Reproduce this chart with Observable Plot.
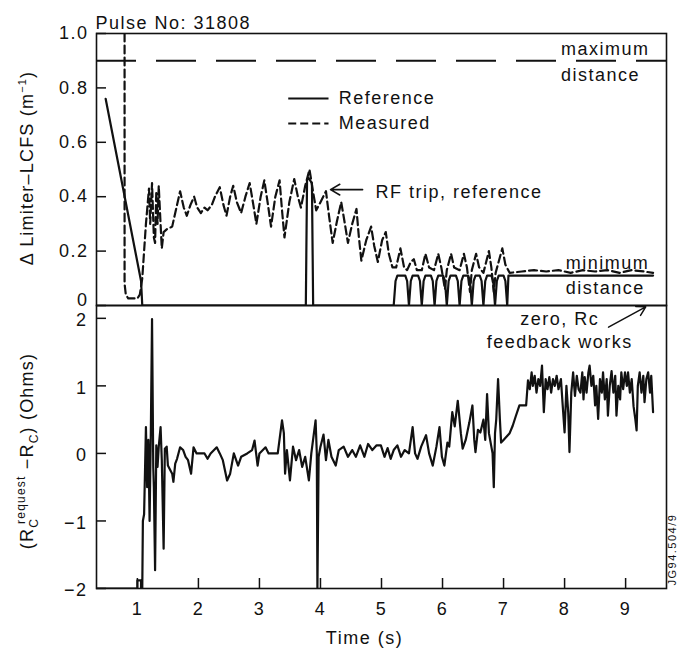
<!DOCTYPE html>
<html>
<head>
<meta charset="utf-8">
<script src="https://cdn.jsdelivr.net/npm/d3@7"></script>
<script src="https://cdn.jsdelivr.net/npm/@observablehq/plot@0.6"></script>
<style>
  body { margin: 0; background: #fff; }
  #chart { position: relative; width: 685px; height: 649px; background: #fff; }
  #chart svg { position: absolute; left: 0; top: 0; }
</style>
</head>
<body>
<div id="chart"></div>
<script>
// ---------- data ----------
const pulseNo = "31808";
const maxDistance = 0.9;
const topTicks = [0, 0.2, 0.4, 0.6, 0.8, 1.0];
const topTickLabels = [0.2, 0.4, 0.6, 0.8, 1.0];
const bottomTicks = [-2, -1, 0, 1, 2];
const timeTicks = [1, 2, 3, 4, 5, 6, 7, 8, 9];

// Reference limiter-LCFS distance (solid)
const refTime = [0.48, 1.06, 1.08, 3.76, 3.78, 3.80, 3.86, 3.88, 5.20, 5.23, 5.26, 5.39, 5.42, 5.45, 5.48, 5.51, 5.60, 5.63, 5.66, 5.69, 5.72, 5.81, 5.84, 5.87, 5.90, 5.93, 6.01, 6.04, 6.07, 6.10, 6.13, 6.22, 6.25, 6.28, 6.31, 6.34, 6.42, 6.45, 6.48, 6.51, 6.54, 6.61, 6.64, 6.67, 6.70, 6.73, 6.80, 6.83, 6.86, 6.89, 6.92, 7.00, 7.03, 7.06, 7.08, 9.45];
const refDist = [0.76, 0.09, 0, 0, 0.46, 0.47, 0.45, 0, 0, 0.09, 0.11, 0.11, 0.09, 0, 0.09, 0.11, 0.11, 0.09, 0, 0.09, 0.11, 0.11, 0.09, 0, 0.09, 0.11, 0.11, 0.09, 0, 0.09, 0.11, 0.11, 0.09, 0, 0.09, 0.11, 0.11, 0.09, 0, 0.09, 0.11, 0.11, 0.09, 0, 0.09, 0.11, 0.11, 0.09, 0, 0.09, 0.11, 0.11, 0.09, 0, 0.11, 0.11];

// Measured limiter-LCFS distance (dashed)
const measTime = [0.79, 0.79, 0.81, 0.85, 1.00, 1.04, 1.08, 1.14, 1.19, 1.21, 1.24, 1.27, 1.29, 1.31, 1.33, 1.35, 1.38, 1.40, 1.43, 1.48, 1.57, 1.63, 1.70, 1.76, 1.81, 1.87, 1.93, 1.98, 2.04, 2.10, 2.15, 2.22, 2.27, 2.35, 2.41, 2.46, 2.52, 2.57, 2.63, 2.70, 2.77, 2.84, 2.90, 2.95, 3.02, 3.08, 3.14, 3.19, 3.26, 3.33, 3.37, 3.41, 3.49, 3.57, 3.63, 3.68, 3.75, 3.82, 3.87, 3.93, 4.00, 4.09, 4.14, 4.20, 4.27, 4.34, 4.40, 4.45, 4.52, 4.59, 4.63, 4.67, 4.75, 4.83, 4.88, 4.94, 5.01, 5.07, 5.12, 5.18, 5.24, 5.31, 5.37, 5.42, 5.48, 5.53, 5.58, 5.66, 5.72, 5.78, 5.86, 5.93, 5.98, 6.04, 6.07, 6.14, 6.19, 6.28, 6.35, 6.40, 6.45, 6.48, 6.55, 6.60, 6.67, 6.76, 6.80, 6.84, 6.87, 6.98, 7.03, 7.10, 7.30, 7.50, 7.70, 7.90, 8.10, 8.30, 8.50, 8.70, 8.90, 9.10, 9.30, 9.45];
const measDist = [1.0, 0.08, 0.04, 0.026, 0.026, 0.04, 0.10, 0.30, 0.43, 0.30, 0.45, 0.25, 0.23, 0.42, 0.30, 0.44, 0.30, 0.21, 0.27, 0.28, 0.29, 0.35, 0.42, 0.36, 0.33, 0.37, 0.40, 0.36, 0.34, 0.36, 0.35, 0.37, 0.40, 0.435, 0.37, 0.33, 0.40, 0.44, 0.38, 0.34, 0.40, 0.45, 0.37, 0.30, 0.40, 0.46, 0.37, 0.29, 0.40, 0.46, 0.35, 0.25, 0.38, 0.465, 0.40, 0.36, 0.44, 0.50, 0.43, 0.35, 0.38, 0.42, 0.33, 0.23, 0.31, 0.38, 0.30, 0.23, 0.30, 0.355, 0.25, 0.165, 0.24, 0.29, 0.22, 0.16, 0.24, 0.27, 0.19, 0.14, 0.14, 0.21, 0.14, 0.13, 0.16, 0.17, 0.13, 0.13, 0.19, 0.14, 0.13, 0.19, 0.14, 0.06, 0.13, 0.19, 0.14, 0.13, 0.19, 0.14, 0.05, 0.13, 0.19, 0.14, 0.12, 0.20, 0.14, 0.05, 0.12, 0.21, 0.15, 0.12, 0.125, 0.13, 0.125, 0.13, 0.12, 0.13, 0.125, 0.13, 0.12, 0.13, 0.125, 0.12];

// Rc request - Rc (Ohms)
const rcTime = [0.33, 1.00, 1.00, 1.06, 1.06, 1.08, 1.09, 1.11, 1.14, 1.16, 1.18, 1.20, 1.22, 1.24, 1.26, 1.27, 1.29, 1.31, 1.33, 1.35, 1.38, 1.40, 1.43, 1.45, 1.48, 1.50, 1.54, 1.57, 1.59, 1.62, 1.65, 1.70, 1.75, 1.79, 1.83, 1.88, 1.92, 1.97, 2.10, 2.15, 2.20, 2.30, 2.35, 2.40, 2.47, 2.52, 2.58, 2.65, 2.70, 2.80, 2.88, 2.92, 2.97, 3.00, 3.10, 3.15, 3.30, 3.37, 3.40, 3.42, 3.45, 3.50, 3.55, 3.60, 3.65, 3.70, 3.75, 3.81, 3.85, 3.92, 3.94, 3.95, 3.97, 4.00, 4.05, 4.09, 4.13, 4.18, 4.25, 4.30, 4.38, 4.45, 4.52, 4.58, 4.65, 4.72, 4.78, 4.85, 4.92, 4.99, 5.05, 5.10, 5.15, 5.20, 5.26, 5.32, 5.38, 5.45, 5.51, 5.55, 5.59, 5.65, 5.73, 5.78, 5.84, 5.90, 5.95, 5.99, 6.03, 6.08, 6.11, 6.16, 6.20, 6.25, 6.30, 6.33, 6.38, 6.44, 6.49, 6.52, 6.54, 6.58, 6.62, 6.67, 6.70, 6.73, 6.76, 6.78, 6.82, 6.84, 6.86, 6.88, 6.91, 6.94, 6.96, 7.00, 7.04, 7.10, 7.15, 7.20, 7.26, 7.37, 7.40, 7.43, 7.46, 7.48, 7.51, 7.54, 7.57, 7.60, 7.63, 7.66, 7.69, 7.72, 7.75, 7.78, 7.81, 7.84, 7.87, 7.90, 7.94, 7.97, 8.00, 8.03, 8.06, 8.08, 8.11, 8.14, 8.17, 8.20, 8.23, 8.26, 8.29, 8.31, 8.33, 8.36, 8.39, 8.41, 8.44, 8.47, 8.50, 8.52, 8.55, 8.58, 8.61, 8.63, 8.66, 8.69, 8.71, 8.74, 8.77, 8.80, 8.83, 8.85, 8.88, 8.91, 8.93, 8.96, 8.99, 9.02, 9.04, 9.07, 9.10, 9.13, 9.16, 9.18, 9.20, 9.23, 9.26, 9.29, 9.31, 9.34, 9.37, 9.40, 9.42, 9.45];
const rcValue = [-2, -2, -1.88, -1.88, -2, -2, -1.0, -0.9, 0.39, -0.5, 0.2, -1.0, 0.3, 1.99, -0.2, -0.5, -1.73, 0.12, -0.2, 0.1, 0.39, -0.1, -1.41, 0.07, 0.1, -0.18, -0.25, -0.3, -0.42, -0.15, -0.08, 0.09, 0.05, -0.05, -0.1, -0.3, 0.09, 0.0, 0.0, -0.08, 0.0, 0.09, 0.0, -0.1, -0.4, -0.3, 0.0, -0.18, -0.05, 0.0, 0.05, 0.19, -0.18, 0.0, 0.09, 0.0, 0.0, 0.49, 0.3, -0.3, 0.05, -0.4, 0.1, -0.1, 0.05, -0.2, -0.05, -0.4, 0.0, 0.49, 0.0, -2, -0.05, 0.1, 0.28, -0.1, 0.2, -0.05, -0.18, 0.05, 0.1, -0.05, 0.05, -0.05, 0.12, -0.05, 0.14, 0.05, 0.12, 0.12, -0.05, 0.08, -0.08, 0.05, 0.12, -0.05, 0.05, 0.0, 0.39, 0.0, -0.08, 0.1, 0.27, 0.0, -0.18, 0.1, 0.39, -0.05, -0.18, 0.16, 0.1, 0.61, 0.4, 0.78, 0.3, 0.07, 0.2, 0.46, 0.71, 0.2, 0.02, 0.35, 0.31, 0.5, 0.2, 0.88, 0.3, 0.2, 0.0, -0.5, 0.3, 0.5, 1.1, 0.5, 0.16, 0.2, 0.24, 0.3, 0.41, 0.55, 0.71, 0.71, 1.08, 0.95, 1.2, 1.0, 1.15, 0.9, 1.1, 1.0, 1.3, 0.61, 1.1, 0.95, 1.13, 0.9, 1.1, 1.0, 1.15, 0.95, 1.1, 0.7, 0.31, 1.0, 0.6, 0.02, 0.9, 1.2, 0.85, 1.15, 0.95, 0.9, 1.2, 0.8, 1.13, 0.9, 1.2, 1.3, 1.0, 1.15, 0.71, 1.0, 0.51, 1.1, 0.9, 1.2, 0.8, 1.1, 0.56, 1.0, 1.22, 0.9, 1.15, 0.56, 1.0, 0.8, 1.2, 0.95, 1.2, 1.0, 1.2, 0.9, 1.1, 0.7, 0.5, 0.34, 1.0, 1.2, 0.9, 1.15, 0.76, 1.1, 1.2, 0.9, 1.15, 0.61];

// ---------- tables ----------
const reference = refTime.map((t, i) => ({t, v: refDist[i]}));
const measured = measTime.map((t, i) => ({t, v: measDist[i]}));
const rc = rcTime.map((t, i) => ({t, v: rcValue[i]}));

// ---------- layout ----------
const W = 685, H = 649;
const xDomain = [0.33, 9.67];
const FONT = "'Liberation Sans', Arial, Helvetica, sans-serif";
const baseStyle = {fontFamily: FONT, fontSize: "18px", letterSpacing: "1.5px", background: "transparent", color: "#111", overflow: "visible"};

const topPlot = Plot.plot({
  width: W, height: H,
  marginLeft: 96, marginRight: 19, marginTop: 33, marginBottom: H - 305,
  x: {domain: xDomain, axis: null},
  y: {domain: [0, 1], axis: null},
  style: baseStyle,
  marks: [
    Plot.ruleY([maxDistance], {stroke: "#111", strokeWidth: 2, strokeDasharray: "40,20"}),
    Plot.line(reference, {x: "t", y: "v", stroke: "#111", strokeWidth: 2.2, clip: true}),
    Plot.line(measured, {x: "t", y: "v", stroke: "#111", strokeWidth: 2.2, strokeDasharray: "8,4", clip: true}),
    Plot.axisY({ticks: topTicks, tickSize: 10, dx: 10, tickFormat: () => "", label: null, strokeWidth: 1.5}),
    Plot.axisY({ticks: topTickLabels, tickSize: 0, tickPadding: 8, tickFormat: d => d.toFixed(1), label: null}),
    Plot.axisY({ticks: [0], tickSize: 0, tickPadding: 8, dy: -5, tickFormat: () => "0", label: null}),
    Plot.frame({stroke: "#111", strokeWidth: 1.6}),
    Plot.text([`Pulse No: ${pulseNo}`], {frameAnchor: "top-left", textAnchor: "start", lineAnchor: "bottom", dy: -5, dx: -1}),
    // legend
    Plot.ruleY([0.761], {x1: 3.48, x2: 4.14, stroke: "#111", strokeWidth: 2}),
    Plot.ruleY([0.669], {x1: 3.48, x2: 4.14, stroke: "#111", strokeWidth: 2, strokeDasharray: "8,4"}),
    Plot.text(["Reference"], {x: 4.30, y: 0.761, textAnchor: "start", lineAnchor: "middle"}),
    Plot.text(["Measured"], {x: 4.30, y: 0.669, textAnchor: "start", lineAnchor: "middle"}),
    // annotations
    Plot.text(["maximum"], {x: 7.94, y: 0.92, textAnchor: "start", lineAnchor: "bottom"}),
    Plot.text(["distance"], {x: 7.94, y: 0.827, textAnchor: "start", lineAnchor: "bottom"}),
    Plot.text(["minimum"], {x: 8.02, y: 0.136, textAnchor: "start", lineAnchor: "bottom"}),
    Plot.text(["distance"], {x: 8.02, y: 0.044, textAnchor: "start", lineAnchor: "bottom"}),
    Plot.text(["RF trip, reference"], {x: 4.90, y: 0.417, textAnchor: "start", lineAnchor: "middle"}),
    Plot.arrow([0], {x1: 4.69, y1: 0.426, x2: 4.165, y2: 0.426, stroke: "#111", strokeWidth: 1.6, headLength: 10})
  ]
});

const bottomPlot = Plot.plot({
  width: W, height: H,
  marginLeft: 96, marginRight: 19, marginTop: 305, marginBottom: H - 588,
  x: {domain: xDomain, axis: null},
  y: {domain: [-2, 2.19], axis: null},
  style: baseStyle,
  marks: [
    Plot.line(rc, {x: "t", y: "v", stroke: "#111", strokeWidth: 2.2, clip: true}),
    Plot.axisY({ticks: bottomTicks, tickSize: 10, dx: 10, tickFormat: () => "", label: null, strokeWidth: 1.5}),
    Plot.axisY({ticks: bottomTicks, tickSize: 0, tickPadding: 9, dy: 2, tickFormat: d => d < 0 ? "\u2212" + (-d) : String(d), label: null}),
    Plot.axisX({ticks: timeTicks, tickSize: 10, dy: -10, tickFormat: () => "", label: null, strokeWidth: 1.5}),
    Plot.axisX({ticks: timeTicks, tickSize: 0, tickPadding: 14, tickFormat: d => String(d), label: null}),
    Plot.frame({stroke: "#111", strokeWidth: 1.6}),
    Plot.text(["Time (s)"], {frameAnchor: "bottom", dx: -17, dy: 55, lineAnchor: "bottom"}),
    Plot.text(["zero, Rc"], {x: 7.92, y: 1.99, textAnchor: "middle", lineAnchor: "middle"}),
    Plot.text(["feedback works"], {x: 7.92, y: 1.65, textAnchor: "middle", lineAnchor: "middle"}),
    Plot.arrow([0], {x1: 8.72, y1: 1.87, x2: 9.33, y2: 2.17, stroke: "#111", strokeWidth: 1.5, headLength: 10, bend: false}),
    Plot.text(["JG94.504/9"], {frameAnchor: "bottom-right", rotate: -90, textAnchor: "start", lineAnchor: "middle", dx: 6, dy: -3, fontSize: 11, style: "letter-spacing:0"})
  ]
});

const chart = document.getElementById("chart");
chart.appendChild(topPlot);
chart.appendChild(bottomPlot);

// rotated y-axis titles (real text, with super/subscripts)
const s1 = d3.select(topPlot);
const t1 = s1.append("text")
  .attr("transform", "translate(33,168) rotate(-90)")
  .attr("text-anchor", "middle")
  .attr("fill", "#111")
  .style("font-family", FONT).style("font-size", "18px").style("letter-spacing", "1.2px");
t1.append("tspan").text("\u0394 Limiter\u2013LCFS (m");
t1.append("tspan").attr("dy", -7).style("font-size", "11px").text("\u22121");
t1.append("tspan").attr("dy", 7).text(")");

const s2 = d3.select(bottomPlot);
const t2 = s2.append("text")
  .attr("transform", "translate(33,451) rotate(-90)")
  .attr("text-anchor", "middle")
  .attr("fill", "#111")
  .style("font-family", FONT).style("font-size", "18px").style("letter-spacing", "1.2px");
t2.append("tspan").text("(R");
t2.append("tspan").attr("dy", 5).style("font-size", "12px").text("C");
t2.append("tspan").attr("dy", -13).attr("dx", -6).style("font-size", "12px").text("request");
t2.append("tspan").attr("dy", 8).text(" \u2212R");
t2.append("tspan").attr("dy", 5).style("font-size", "12px").text("C");
t2.append("tspan").attr("dy", -5).text(") (Ohms)");
</script>
</body>
</html>
